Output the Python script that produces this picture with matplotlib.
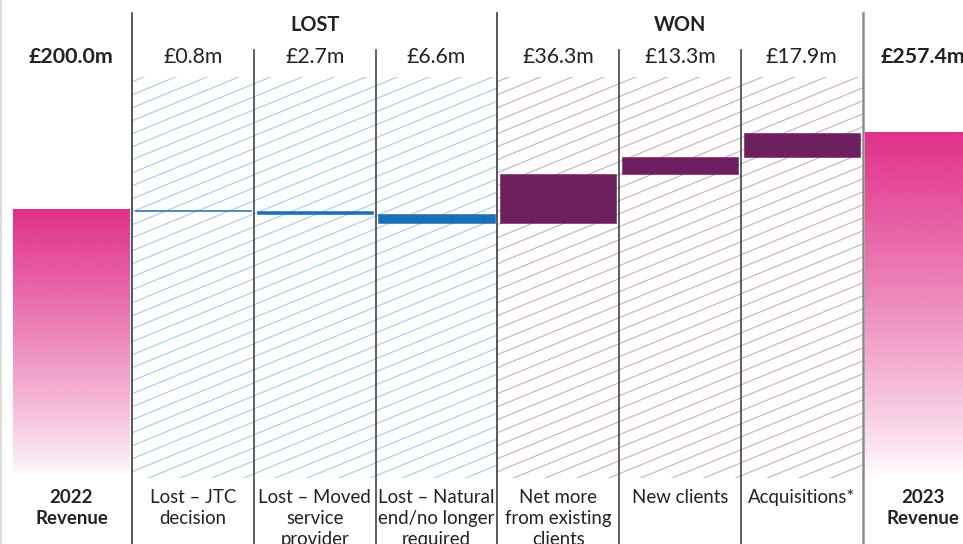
import numpy as np
import matplotlib.pyplot as plt
from matplotlib.patches import Rectangle
from matplotlib.lines import Line2D
from matplotlib.colors import to_rgb

plt.rcParams['font.family'] = ['Lato', 'DejaVu Sans']

# revenue bridge, £m
start_value = 200.0
end_value = 257.4
changes = [-0.8, -2.7, -6.6, 36.3, 13.3, 17.9]
value_labels = ['£200.0m', '£0.8m', '£2.7m', '£6.6m', '£36.3m', '£13.3m', '£17.9m', '£257.4m']
bottom_labels = ['2022\nRevenue', 'Lost – JTC\ndecision', 'Lost – Moved\nservice\nprovider',
                 'Lost – Natural\nend/no longer\nrequired', 'Net more\nfrom existing\nclients',
                 'New clients', 'Acquisitions*', '2023\nRevenue']
groups = ['LOST', 'WON']

PINK = '#E0308A'
BLUE = '#1B6FB7'
PURPLE = '#6E1F5F'
HATCH_BLUE = '#A3C8EA'
HATCH_PURPLE = '#CBA5CB'
TXT = '#222222'

W, H = 963, 544
col_px = 121.7      # px per category
y_px = 1.342        # px per £m
ytop = 298.8

fig = plt.figure(figsize=(W / 100, H / 100), dpi=100)
ax = fig.add_axes([10.6 / W, (H - 478) / H, 8 * col_px / W, 401 / H])
ax.axis('off')


def hatch(x0, x1, color):
    slope = 0.41 * col_px / y_px
    step = 13 / y_px
    clip = Rectangle((x0, 0), x1 - x0, ytop, facecolor='none', edgecolor='none')
    ax.add_patch(clip)
    b = -slope * (x1 - x0)
    while b < ytop:
        ln, = ax.plot([x0, x1], [b, b + slope * (x1 - x0)], color=color, lw=0.75, zorder=1)
        ln.set_clip_path(clip)
        b += step


hatch(0.5, 3.5, HATCH_BLUE)
hatch(3.5, 6.5, HATCH_PURPLE)


def grad_bar(x, v):
    n = 256
    rgba = np.zeros((n, 1, 4))
    rgba[..., :3] = to_rgb(PINK)
    rgba[..., 3] = np.linspace(1, 0, n)[:, None] ** 0.85
    ax.imshow(rgba, extent=[x - 0.48, x + 0.48, 0, v], aspect='auto',
              origin='upper', interpolation='bilinear', zorder=2)


grad_bar(0, start_value)
grad_bar(7, end_value)

# floating bars
levels = np.concatenate([[start_value], start_value + np.cumsum(changes)])
for i, c in enumerate(changes):
    lo, hi = sorted([levels[i], levels[i + 1]])
    ax.bar(i + 1, hi - lo, bottom=lo, width=0.955, color=BLUE if c < 0 else PURPLE,
           edgecolor=BLUE if c < 0 else PURPLE, lw=0.4, zorder=3)

ax.set_xlim(-0.5, 7.5)
ax.set_ylim(0, ytop)

# separators
tr = ax.get_xaxis_transform()
ybot = -(H - 478) / 401
for x in [0.5, 3.5]:
    ax.plot([x, x], [ybot, (478 - 13) / 401], transform=tr, clip_on=False, color='#3a3a3a', lw=1.2, zorder=4)
ax.plot([6.5, 6.5], [ybot, (478 - 13) / 401], transform=tr, clip_on=False, color='#8a8a8a', lw=1.8, zorder=4)
for x in [1.5, 2.5, 4.5, 5.5]:
    ax.plot([x, x], [ybot, (478 - 50) / 401], transform=tr, clip_on=False, color='#444444', lw=1.2, zorder=4)

# text
for g, x in zip(groups, [2, 5]):
    ax.text(x, (478 - 25) / 401, g, transform=tr, ha='center', va='center',
            fontsize=14.3, fontweight='bold', color=TXT)
for i, lab in enumerate(value_labels):
    bold = i in (0, 7)
    ax.text(i, (478 - 57) / 401, lab, transform=tr, ha='center', va='center',
            fontsize=15.4 if bold else 15.3, fontweight='bold' if bold else 'normal', color=TXT)
for i, lab in enumerate(bottom_labels):
    bold = i in (0, 7)
    ax.text(i, (478 - 489) / 401, lab, transform=tr, ha='center', va='top',
            fontsize=13.4, fontweight='bold' if bold else 'normal', color=TXT, linespacing=1.3)

fig.add_artist(Line2D([0.0015, 0.0015], [0, 1], color='#dddddd', lw=1.5))

fig.savefig('out.png', dpi=100)
